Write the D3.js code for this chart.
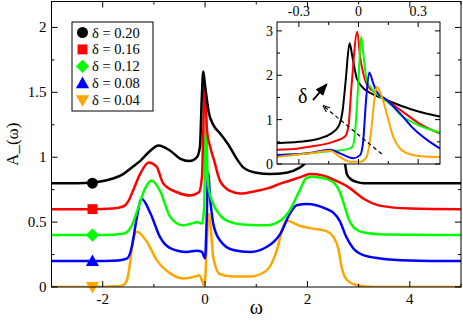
<!DOCTYPE html>
<html><head><meta charset="utf-8">
<script src="https://cdn.jsdelivr.net/npm/d3@7/dist/d3.min.js"></script>
<style>body{margin:0;background:#fff}svg{display:block}svg text{font-family:'Liberation Serif','Times New Roman','DejaVu Serif',serif}</style>
</head><body><svg id="c" width="463" height="321"></svg>
<script>
const legendLabels = ["δ = 0.20","δ = 0.16","δ = 0.12","δ = 0.08","δ = 0.04"];
const seriesColors = ["#000000","#ff0000","#00ff00","#0000ff","#ffa500"];
const markerShapes = ["circle","square","diamond","triangle","down"];
const markerOmega = -2.2;
const markerValues = [0.8,0.6,0.4,0.2,0.0];
const mainXTicks = [-2,0,2,4];
const mainYTicks = [0,0.5,1,1.5,2];
const insetXTicks = [-0.3,0,0.3];
const insetYTicks = [0,1,2,3];

const mainBlack = [[-3,0.80],[-2.5,0.80],[-2.2,0.805],[-1.9,0.825],[-1.6,0.87],[-1.4,0.93],[-1.27,0.97],[-1.07,1.05],[-0.91,1.09],[-0.68,1.05],[-0.49,0.99],[-0.3,0.97],[-0.16,1.0],[-0.1,1.08],[-0.065,1.45],[-0.035,1.66],[0.0,1.55],[0.03,1.46],[0.07,1.35],[0.16,1.25],[0.3,1.18],[0.45,1.1],[0.6,1.0],[0.75,0.92],[1.0,0.88],[1.27,0.87],[1.59,0.88],[1.85,0.92],[2.1,1.0],[2.4,1.05],[2.65,1.03],[2.73,0.96],[2.77,0.87],[2.85,0.83],[2.96,0.81],[3.1,0.80],[4,0.80],[5,0.80]];
const mainRed = [[-3,0.60],[-2.2,0.60],[-1.8,0.605],[-1.6,0.62],[-1.5,0.66],[-1.41,0.74],[-1.27,0.87],[-1.1,0.96],[-0.95,0.93],[-0.82,0.80],[-0.55,0.73],[-0.29,0.705],[-0.12,0.73],[-0.06,0.85],[-0.035,1.2],[-0.01,1.59],[0.01,1.45],[0.04,1.2],[0.1,1.08],[0.18,0.97],[0.29,0.82],[0.49,0.74],[0.68,0.72],[1.0,0.74],[1.22,0.76],[1.5,0.8],[1.85,0.845],[2.05,0.87],[2.3,0.86],[2.5,0.83],[2.8,0.77],[3.1,0.68],[3.41,0.627],[4.0,0.605],[5,0.60]];
const mainGreen = [[-3,0.40],[-2.2,0.40],[-1.8,0.403],[-1.6,0.41],[-1.45,0.46],[-1.34,0.57],[-1.17,0.76],[-1.04,0.82],[-0.88,0.74],[-0.68,0.54],[-0.43,0.475],[-0.25,0.49],[-0.16,0.50],[-0.06,0.49],[-0.02,0.6],[0.02,1.30],[0.045,0.9],[0.07,0.76],[0.16,0.64],[0.3,0.55],[0.5,0.50],[0.8,0.48],[1.2,0.475],[1.5,0.52],[1.62,0.57],[1.85,0.745],[1.98,0.84],[2.1,0.85],[2.4,0.83],[2.6,0.76],[2.72,0.63],[2.8,0.53],[2.93,0.45],[3.1,0.42],[3.5,0.405],[5,0.40]];
const mainBlue = [[-3,0.20],[-2.2,0.20],[-1.7,0.205],[-1.52,0.22],[-1.42,0.33],[-1.34,0.52],[-1.24,0.68],[-1.07,0.57],[-0.88,0.385],[-0.68,0.30],[-0.36,0.27],[-0.16,0.28],[-0.06,0.27],[0.0,0.22],[0.03,0.5],[0.06,0.88],[0.1,0.68],[0.16,0.49],[0.29,0.36],[0.55,0.285],[0.88,0.27],[1.21,0.31],[1.47,0.41],[1.66,0.567],[1.79,0.63],[1.99,0.64],[2.38,0.60],[2.5,0.575],[2.63,0.51],[2.76,0.385],[2.89,0.30],[3.09,0.245],[3.42,0.22],[4,0.205],[5,0.20]];
const mainOrange = [[-3,0],[-2.2,0],[-1.7,0.005],[-1.6,0.015],[-1.52,0.06],[-1.46,0.2],[-1.4,0.38],[-1.33,0.425],[-1.14,0.35],[-0.94,0.205],[-0.68,0.105],[-0.42,0.066],[-0.2,0.08],[-0.12,0.09],[-0.06,0.05],[-0.03,0.015],[0.0,0.05],[0.03,0.3],[0.07,0.565],[0.1,0.5],[0.16,0.23],[0.29,0.10],[0.55,0.08],[0.88,0.08],[1.21,0.13],[1.4,0.28],[1.53,0.47],[1.6,0.51],[1.86,0.47],[2.11,0.45],[2.37,0.43],[2.5,0.39],[2.6,0.30],[2.67,0.15],[2.76,0.06],[2.96,0.015],[3.3,0],[5,0]];

const insetBlack = [[-0.41,0.47],[-0.3,0.5],[-0.2,0.57],[-0.14,0.68],[-0.1,0.85],[-0.08,1.2],[-0.065,1.85],[-0.045,2.72],[-0.03,2.4],[-0.01,1.95],[0.016,1.75],[0.06,1.6],[0.11,1.5],[0.175,1.38],[0.26,1.24],[0.33,1.15],[0.41,1.07]];
const insetRed = [[-0.41,0.32],[-0.3,0.35],[-0.244,0.39],[-0.127,0.5],[-0.068,0.62],[-0.051,0.84],[-0.034,1.82],[-0.006,2.98],[0.008,2.42],[0.024,2.04],[0.049,1.74],[0.092,1.59],[0.142,1.44],[0.225,1.17],[0.31,0.9],[0.41,0.69]];
const insetGreen = [[-0.41,0.2],[-0.25,0.24],[-0.16,0.28],[-0.06,0.33],[-0.03,0.39],[-0.018,0.69],[-0.001,1.82],[0.013,2.87],[0.024,2.49],[0.041,1.89],[0.066,1.7],[0.108,1.52],[0.175,1.29],[0.208,1.12],[0.29,0.9],[0.41,0.71]];
const insetBlue = [[-0.41,0.2],[-0.244,0.25],[-0.143,0.32],[-0.093,0.24],[-0.026,0.13],[0.008,0.2],[0.024,0.54],[0.038,1.44],[0.054,2.06],[0.074,1.82],[0.092,1.63],[0.142,1.44],[0.209,1.14],[0.276,0.8],[0.343,0.55],[0.41,0.35]];
const insetOrange = [[-0.41,0.16],[-0.244,0.24],[-0.143,0.3],[-0.093,0.16],[-0.043,0.05],[0.008,0.05],[0.041,0.16],[0.066,0.84],[0.08,1.45],[0.092,1.74],[0.117,1.52],[0.142,1.14],[0.175,0.61],[0.209,0.35],[0.26,0.22],[0.33,0.17],[0.41,0.16]];

const mainSeries = [mainBlack,mainRed,mainGreen,mainBlue,mainOrange];
const insetSeries = [insetBlack,insetRed,insetGreen,insetBlue,insetOrange];

const svg = d3.select("#c");
const L=51.5,R=461,T=1.5,B=287;
const x = d3.scaleLinear().domain([-3,5]).range([L,R]);
const y = d3.scaleLinear().domain([0,2.2]).range([B,T]);
function txt(g){ return g.append("text").attr("fill","#000"); }

svg.append("clipPath").attr("id","mclip").append("rect").attr("x",L).attr("y",T).attr("width",R-L).attr("height",B-T);
const line = d3.line().x(d=>x(d[0])).y(d=>y(d[1])).curve(d3.curveMonotoneX);
const mg = svg.append("g").attr("clip-path","url(#mclip)");
mainSeries.slice().reverse().forEach((s,i)=>{
  const k = mainSeries.length-1-i;
  mg.append("path").attr("d",line(s)).attr("fill","none").attr("stroke",seriesColors[k]).attr("stroke-width",2.5);
});

function marker(g,shape,cx,cy,size,color){
  const s=size;
  if(shape==="circle") g.append("circle").attr("cx",cx).attr("cy",cy).attr("r",s*0.5).attr("fill",color);
  else if(shape==="square") g.append("rect").attr("x",cx-s*0.45).attr("y",cy-s*0.45).attr("width",s*0.9).attr("height",s*0.9).attr("fill",color);
  else if(shape==="diamond") g.append("path").attr("d",`M${cx},${cy-s*0.6}L${cx+s*0.6},${cy}L${cx},${cy+s*0.6}L${cx-s*0.6},${cy}Z`).attr("fill",color);
  else if(shape==="triangle") g.append("path").attr("d",`M${cx},${cy-s*0.6}L${cx+s*0.6},${cy+s*0.45}L${cx-s*0.6},${cy+s*0.45}Z`).attr("fill",color);
  else g.append("path").attr("d",`M${cx},${cy+s*0.6}L${cx+s*0.6},${cy-s*0.45}L${cx-s*0.6},${cy-s*0.45}Z`).attr("fill",color);
}
markerValues.forEach((v,i)=>marker(svg,markerShapes[i],x(markerOmega),y(v),11,seriesColors[i]));

svg.append("rect").attr("x",L).attr("y",T).attr("width",R-L).attr("height",B-T).attr("fill","none").attr("stroke","#000").attr("stroke-width",1);
const tg = svg.append("g").attr("stroke","#000").attr("stroke-width",1);
d3.range(-3,5.01,1).forEach(v=>{
  const len = mainXTicks.includes(v)?6:3;
  tg.append("line").attr("x1",x(v)).attr("x2",x(v)).attr("y1",B).attr("y2",B-len);
  tg.append("line").attr("x1",x(v)).attr("x2",x(v)).attr("y1",T).attr("y2",T+len);
});
d3.range(0,2.21,0.25).forEach(v=>{
  const len = mainYTicks.some(t=>Math.abs(t-v)<1e-9)?6:3;
  tg.append("line").attr("x1",L).attr("x2",L+len).attr("y1",y(v)).attr("y2",y(v));
  tg.append("line").attr("x1",R).attr("x2",R-len).attr("y1",y(v)).attr("y2",y(v));
});
mainXTicks.forEach(v=>txt(svg).attr("x",x(v)).attr("y",B+17).attr("text-anchor","middle").attr("font-size",15).text(v));
mainYTicks.forEach(v=>txt(svg).attr("x",L-5).attr("y",y(v)+5).attr("text-anchor","end").attr("font-size",15).text(v));
txt(svg).attr("x",(L+R)/2).attr("y",314).attr("text-anchor","middle").attr("font-size",20).text("ω");
txt(svg).attr("transform",`translate(18,${(T+B)/2}) rotate(-90)`).attr("text-anchor","middle").attr("font-size",17).text("A_(ω)");

const lg = svg.append("g");
lg.append("rect").attr("x",72).attr("y",22).attr("width",81).attr("height",89).attr("fill","#fff").attr("stroke","#000").attr("stroke-width",1);
legendLabels.forEach((t,i)=>{
  const cy = 32.5+i*16.9;
  marker(lg,markerShapes[i],82.5,cy,11,seriesColors[i]);
  txt(lg).attr("x",92).attr("y",cy+5).attr("font-size",14.5).text(t);
});

const IL=277,IR=440,IT=22,IB=164;
const xi = d3.scaleLinear().domain([-0.41,0.41]).range([IL,IR]);
const yi = d3.scaleLinear().domain([0,3.2]).range([IB,IT]);
svg.append("rect").attr("x",IL).attr("y",IT).attr("width",IR-IL).attr("height",IB-IT).attr("fill","#fff");
svg.append("clipPath").attr("id","iclip").append("rect").attr("x",IL).attr("y",IT).attr("width",IR-IL).attr("height",IB-IT);
const iline = d3.line().x(d=>xi(d[0])).y(d=>yi(d[1])).curve(d3.curveMonotoneX);
const ig = svg.append("g").attr("clip-path","url(#iclip)");
insetSeries.forEach((s,k)=>{
  ig.append("path").attr("d",iline(s)).attr("fill","none").attr("stroke",seriesColors[k]).attr("stroke-width",2);
});
svg.append("rect").attr("x",IL).attr("y",IT).attr("width",IR-IL).attr("height",IB-IT).attr("fill","none").attr("stroke","#000").attr("stroke-width",1);
const itg = svg.append("g").attr("stroke","#000").attr("stroke-width",1);
[-0.3,-0.15,0,0.15,0.3].forEach(v=>{
  const len = insetXTicks.some(t=>Math.abs(t-v)<1e-9)?5:3;
  itg.append("line").attr("x1",xi(v)).attr("x2",xi(v)).attr("y1",IT).attr("y2",IT+len);
  itg.append("line").attr("x1",xi(v)).attr("x2",xi(v)).attr("y1",IB).attr("y2",IB-len);
});
d3.range(0,3.01,0.5).forEach(v=>{
  const len = insetYTicks.includes(v)?5:3;
  itg.append("line").attr("x1",IL).attr("x2",IL+len).attr("y1",yi(v)).attr("y2",yi(v));
  itg.append("line").attr("x1",IR).attr("x2",IR-len).attr("y1",yi(v)).attr("y2",yi(v));
});
insetXTicks.forEach(v=>txt(svg).attr("x",xi(v)).attr("y",IT-6).attr("text-anchor","middle").attr("font-size",14).text(v));
insetYTicks.forEach(v=>txt(svg).attr("x",IL-4).attr("y",yi(v)+5).attr("text-anchor","end").attr("font-size",14).text(v));

const defs = svg.append("defs");
defs.append("marker").attr("id","ah").attr("viewBox","0 0 10 10").attr("refX",9).attr("refY",5).attr("markerWidth",7).attr("markerHeight",7).attr("orient","auto")
  .append("path").attr("d","M0,1L10,5L0,9Z").attr("fill","#000");
defs.append("marker").attr("id","ah2").attr("viewBox","0 0 10 10").attr("refX",9).attr("refY",5).attr("markerWidth",6).attr("markerHeight",6).attr("orient","auto")
  .append("path").attr("d","M0,1L10,5L0,9").attr("fill","none").attr("stroke","#000").attr("stroke-width",1.5);
svg.append("line").attr("x1",xi(0.117)).attr("y1",yi(0.225)).attr("x2",xi(-0.177)).attr("y2",yi(1.31)).attr("stroke","#000").attr("stroke-width",1.2).attr("stroke-dasharray","4,3").attr("marker-end","url(#ah2)");
svg.append("line").attr("x1",xi(-0.229)).attr("y1",yi(1.44)).attr("x2",xi(-0.16)).attr("y2",yi(1.8)).attr("stroke","#000").attr("stroke-width",1.8).attr("marker-end","url(#ah)");
txt(svg).attr("x",xi(-0.28)).attr("y",yi(1.38)).attr("text-anchor","middle").attr("font-size",20).text("δ");
</script></body></html>
